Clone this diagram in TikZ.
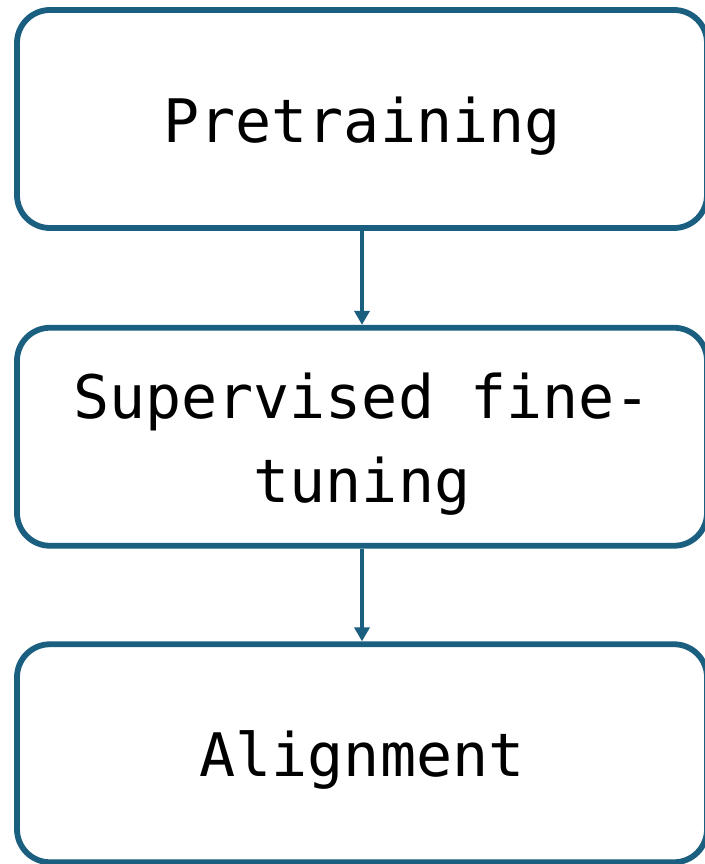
\documentclass[tikz,border=0pt]{standalone}
\usepackage{fontspec}
\setmonofont{DejaVu Sans Mono}
\usetikzlibrary{arrows.meta}
\definecolor{stageblue}{HTML}{1A5E80}
\tikzset{
  stagebox/.style={draw=stageblue, line width=5.8pt, rounded corners=33pt,
    minimum width=690pt, minimum height=218pt, inner sep=0pt},
  stagetext/.style={align=center, inner sep=0pt, yshift=-7pt,
    font=\ttfamily\fontsize{60}{84}\selectfont},
  flow/.style={draw=stageblue, line width=3.5pt,
    -{Triangle[length=14pt,width=15pt]}}
}
\begin{document}
\begin{tikzpicture}[x=1pt,y=-1pt]
  \useasboundingbox (0,0) rectangle (704,864);
  \node[stagebox, label={[stagetext]center:Pretraining}] (pre) at (362,119) {};
  \node[stagebox, label={[stagetext]center:Supervised fine-\\tuning}] (sft) at (362,436.75) {};
  \node[stagebox, label={[stagetext]center:Alignment}] (align) at (362,753.25) {};
  \draw[flow] (pre) -- (sft);
  \draw[flow] (sft) -- (align);
\end{tikzpicture}
\end{document}
